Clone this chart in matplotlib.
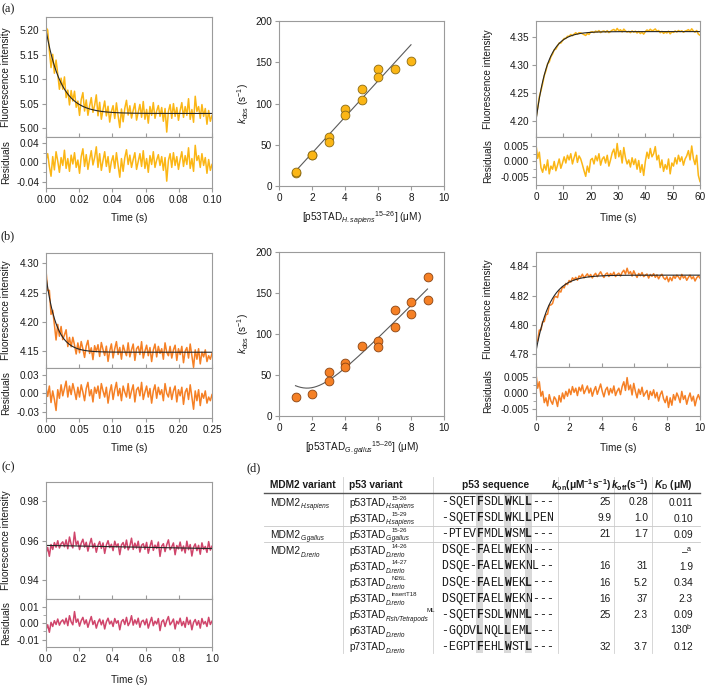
import numpy as np
import matplotlib
matplotlib.use('Agg')
import matplotlib.pyplot as plt
from matplotlib.patches import Rectangle

plt.rcParams['font.family'] = ['Liberation Sans', 'DejaVu Sans']
plt.rcParams['axes.unicode_minus'] = False
plt.rcParams['mathtext.fontset'] = 'custom'
plt.rcParams['mathtext.rm'] = 'Liberation Sans'
plt.rcParams['mathtext.it'] = 'Liberation Sans:italic'
plt.rcParams['mathtext.bf'] = 'Liberation Sans:bold'
try:
    plt.rcParams['mathtext.bfit'] = 'Liberation Sans:italic:bold'
    HAS_BFIT = True
except KeyError:
    HAS_BFIT = False

# ---------------------------------------------------------------- data
# (a) MDM2 H.sapiens / p53TAD H.sapiens 15-26
a_bind_tend = 0.10
a_bind_base, a_bind_amp, a_bind_tau = 5.03, 0.17, 0.009
a_bind_resid_milli = [5, 18, -8, -28, 12, -15, 22, 3, -20, 10,
                      -6, 25, -12, 8, -18, 15, -3, 20, -10, 5,
                      -22, 12, 28, -8, 16, -14, 6, 24, -5, 10,
                      32, -10, 18, -16, 4, 22, -8, 12, -20, 2,
                      14, -12, 20, -6, -30, 8, -18, 10, 26, -4,
                      15, -10, 6, 20, -14, 2, 18, -8, 24, -12,
                      8, -20, 14, -4, 22, -10, 5, 16, -6, 12,
                      -16, 10, -38, 4, 18, -10, 20, -6, 12, -14,
                      6, 22, -8, 14, -4, 30, -12, 8, -18, 35,
                      4, 14, -10, 18, -6, 10, -22, 6, -16, -4]
a_conc = [1, 1, 2, 2, 3, 3, 4, 4, 5, 5, 6, 6, 7, 8]
a_kobs = [16, 17, 37, 38, 59, 53, 93, 86, 117, 104, 142, 132, 142, 151]
a_kon_fit, a_koff_fit = 21.9, -4.0
a_diss_tend = 60
a_diss_base, a_diss_amp, a_diss_tau = 4.36, -0.16, 4.2
a_diss_resid_1e4 = [55, 10, 30,
                    -20, -35, -10, -28, 5, -40, -15, -25, 0, -30, -12, 8, -22, -5,
                    15, -5, 20, 5, 25, -8, 12, 30, -3, 18, 8, -10,
                    -30, -48, -15, -35, 5,
                    10, -8, 18, 2, 25, -12, 8, 15, -5, 20, -15, 5, 28,
                    40, 10, 58, 15, 35, -5, 45, 12, -8,
                    5, -18, 12, -10, 8, -25, 3,
                    -35, -10, -45, 0,
                    30, 10, 42, 15, 25, 48, 5, 20,
                    -20, 5, -32, -10, -25, 8, -40, -5, -15,
                    12, -8, 20, 0, 15, -12, 8, 18,
                    35, 5, 50, 10, -10,
                    20, -45, -65]

# (b) MDM2 G.gallus / p53TAD G.gallus 15-26
b_bind_tend = 0.25
b_bind_base, b_bind_amp, b_bind_tau = 4.148, 0.13, 0.0155
b_bind_resid_milli = [10, -5, 12, -15, 4, -10, -28, 6, -8, 14,
                      -4, 8, 20, -6, 12, -2, 16, 4, -10, 10,
                      -6, 14, 2, -12, 8, 18, -4, 6, -14, 10,
                      0, 12, -8, 16, 4, -6, 10, -16, 2, 14,
                      -10, 6, 18, -4, 8, -12, 12, 2, -6, 16,
                      -8, 4, 14, -14, 6, 10, -4, 18, -10, 2,
                      12, -6, 8, -16, 4, 14, -8, 10, -2, 6,
                      -12, 16, 0, -6, 10, -10, 4, 12, -14, 6,
                      -4, 10, -18, 2, 8, -10, 14, -6, -26, 4,
                      -12, 6, -20, 0, -8, 4, -16, -6, -12, -2]
b_conc = [1, 2, 3, 3, 4, 4, 5, 6, 6, 7, 7, 8, 8, 9, 9]
b_kobs = [23, 27, 54, 43, 65, 60, 85, 91, 84, 129, 109, 139, 125, 170, 141]
b_fit_k, b_fit_x0, b_fit_min = 20.7, 1.7, 34.0
b_diss_tend = 10
b_diss_base, b_diss_amp, b_diss_tau = 4.834, -0.052, 0.85
b_diss_resid_1e4 = [60, 15, 35, -10, 5, -30, -15, -40, -5, -25,
                    -35, -12, -20, -42, -8, -28, 0, -18, 5, -10,
                    12, -5, 20, 2, 15, -8, 18, 6, 25, -2,
                    10, 22, 0, 15, -10, 8, 20, -4, 12, 28,
                    5, -12, 10, 18, -6, 14, 0, 22, -8, 6,
                    15, -5, 20, 35, 8, 48, 10, 25, -6, 30,
                    5, -15, 12, -4, 18, -10, 0, 8, -20, 5,
                    -8, 10, -15, 2, -25, -5, 6, -18, -30, -10,
                    -45, -15, -38, -5, -22, 0, -12, -30, 5, -20,
                    -8, -35, -15, 0, -25, -10, -40, -18, -5, -20]

# (c) MDM2 D.rerio / p53TAD D.rerio 14-26 (no binding signal)
c_tend = 1.0
c_intercept, c_slope = 0.9576, -0.0016
c_resid_1e4 = [-40, -10, -55, 5, -20, 15, -8, 25, -12, 10,
               20, -5, 30, -15, 45, 8, -10, 70, 5, 25,
               -18, 15, 35, -5, 20, -25, 10, 40, -8, 15,
               -30, 5, 25, -10, 18, -35, 8, 30, -5, 12,
               -20, 28, 0, 15, -40, 10, 22, -8, 35, -15,
               5, 45, -12, 20, -5, 30, -25, 10, 18, -10,
               25, -30, 5, 35, -15, 12, -5, 28, -45, 8,
               20, -20, 15, 40, -10, 5, 25, -35, 12, -5,
               30, -15, 10, -25, 35, -8, 18, -40, 5, 22,
               -12, 15, -30, 28, -5, 10, -20, 35, -8, 12]

# (d) table
tbl_headers = ["MDM2 variant", "p53 variant", "p53 sequence"]
mdm2_species = ["H.sapiens", "G.gallus", "D.rerio"]
mdm2_group_sizes = [2, 1, 7]
p53_prefix = ["p53TAD"] * 8 + ["p63TAD", "p73TAD"]
p53_species = ["H.sapiens", "H.sapiens", "G.gallus", "D.rerio", "D.rerio",
               "D.rerio", "D.rerio", "Fish/Tetrapods", "D.rerio", "D.rerio"]
p53_construct = ["15-26", "15-29", "15-26", "14-26", "14-27",
                 "N26L", "insertT18", "ML", "", ""]
p53_sequence = ["-SQETFSDLWKLL---", "-SQETFSDLWKLLPEN", "-PTEVFMDLWSML---",
                "DSQE-FAELWEKN---", "DSQE-FAELWEKNL--", "DSQE-FAELWEKL---",
                "DSQETFAELWEKN---", "-SQETFSDLWNML---", "-GQDVLNQLLEML---",
                "-EGPTFEHLWSTL---"]
highlight_cols = [5, 9, 12]
conserved = "FWL"
kon_vals = ["25", "9.9", "21", "", "16", "16", "16", "25", "", "32"]
koff_vals = ["0.28", "1.0", "1.7", "", "31", "5.2", "37", "2.3", "", "3.7"]
kd_vals = ["0.011", "0.10", "0.09", "\u2013", "1.9", "0.34", "2.3", "0.09", "130", "0.12"]
kd_notes = ["", "", "", "a", "", "", "", "", "b", ""]

# ---------------------------------------------------------------- layout
W, H = 709, 686
fig = plt.figure(figsize=(W / 100, H / 100), dpi=100)
ov = fig.add_axes([0, 0, 1, 1], zorder=10)
ov.set_xlim(0, W)
ov.set_ylim(H, 0)
ov.axis('off')
ov.patch.set_alpha(0)

SPINE = '#9b9b9b'
TXT = '#1a1a1a'
FS = 7.2
GOLD, GOLD_E = '#FBB615', '#8a6a14'
ORANGE, ORANGE_E = '#F58025', '#8a4312'
CRIMSON = '#D0456B'
TRACE_LW = 1.1


def rect(L, T, R, B):
    return [L / W, 1 - B / H, (R - L) / W, (B - T) / H]


def style(ax):
    for s in ax.spines.values():
        s.set_color(SPINE)
        s.set_linewidth(0.8)
    ax.tick_params(colors=SPINE, labelcolor=TXT, labelsize=FS, length=3,
                   width=0.8, pad=2)
    ax.tick_params(which='minor', colors=SPINE, length=2, width=0.6)


def kinetic(box, t_end, model, resid, color, xticks, xfmt,
            m_ticks, m_lim, m_fmt, r_ticks, r_lim, r_fmt):
    L, T, R, Bm, Br = box
    resid = np.asarray(resid)
    t = np.linspace(0, t_end, len(resid))
    tf = np.linspace(0, t_end, 400)
    axm = fig.add_axes(rect(L, T, R, Bm))
    axr = fig.add_axes(rect(L, Bm, R, Br))
    axm.plot(t, model(t) + resid, color=color, lw=TRACE_LW)
    axm.plot(tf, model(tf), color='#262626', lw=0.8)
    axr.plot(t, resid, color=color, lw=TRACE_LW)
    for ax in (axm, axr):
        style(ax)
        ax.set_xlim(0, t_end)
        ax.set_xticks(xticks)
    axm.set_ylim(*m_lim)
    axm.set_yticks(m_ticks)
    axm.set_yticklabels([m_fmt.format(v) for v in m_ticks])
    axm.tick_params(axis='x', direction='in', labelbottom=False)
    axr.set_ylim(*r_lim)
    axr.set_yticks(r_ticks)
    axr.set_yticklabels([r_fmt.format(v) for v in r_ticks])
    mids = [(r_ticks[i] + r_ticks[i + 1]) / 2 for i in range(len(r_ticks) - 1)]
    axr.set_yticks(mids, minor=True)
    axr.set_xticklabels([xfmt.format(v) for v in xticks])
    return axm, axr


def exp_model(base, amp, tau):
    return lambda t: base + amp * np.exp(-t / tau)


# (a) left
kinetic((46, 17, 212, 137, 188), a_bind_tend,
        exp_model(a_bind_base, a_bind_amp, a_bind_tau),
        np.array(a_bind_resid_milli) * 1e-3, GOLD,
        np.arange(0, 0.101, 0.02), "{:.2f}",
        [5.00, 5.05, 5.10, 5.15, 5.20], (4.982, 5.2265), "{:.2f}",
        [-0.04, 0.0, 0.04], (-0.052, 0.052), "{:.2f}")
# (a) right
kinetic((536, 21, 700, 137, 185), a_diss_tend,
        exp_model(a_diss_base, a_diss_amp, a_diss_tau),
        np.array(a_diss_resid_1e4) * 1e-4, GOLD,
        np.arange(0, 61, 10), "{:.0f}",
        [4.20, 4.25, 4.30, 4.35], (4.171, 4.379), "{:.2f}",
        [-0.005, 0.0, 0.005], (-0.0076, 0.0079), "{:.3f}")
# (b) left
kinetic((46, 253, 212, 368, 418), b_bind_tend,
        exp_model(b_bind_base, b_bind_amp, b_bind_tau),
        np.array(b_bind_resid_milli) * 1e-3, ORANGE,
        np.arange(0, 0.251, 0.05), "{:.2f}",
        [4.15, 4.20, 4.25, 4.30], (4.121, 4.3177), "{:.2f}",
        [-0.03, 0.0, 0.03], (-0.0403, 0.0415), "{:.2f}")
# (b) right
kinetic((536, 252, 700, 367, 416), b_diss_tend,
        exp_model(b_diss_base, b_diss_amp, b_diss_tau),
        np.array(b_diss_resid_1e4) * 1e-4, ORANGE,
        np.arange(0, 11, 2), "{:.0f}",
        [4.78, 4.80, 4.82, 4.84], (4.7713, 4.8498), "{:.2f}",
        [-0.005, 0.0, 0.005], (-0.00716, 0.0081), "{:.3f}")
# (c)
kinetic((46, 482, 212, 599, 647), c_tend,
        lambda t: c_intercept + c_slope * t,
        np.array(c_resid_1e4) * 1e-4, CRIMSON,
        np.arange(0, 1.01, 0.2), "{:.1f}",
        [0.94, 0.96, 0.98], (0.9303, 0.9899), "{:.2f}",
        [-0.01, 0.0, 0.01], (-0.0144, 0.0146), "{:.2f}")


def kobs_panel(box, conc, kobs, fc, ec, xfit, yfit):
    L, T, R, B = box
    ax = fig.add_axes(rect(L, T, R, B))
    style(ax)
    ax.plot(xfit, yfit, color='#5a5a5a', lw=0.8, zorder=2)
    ax.scatter(conc, kobs, s=40, c=fc, edgecolors=ec, linewidths=0.6, zorder=3)
    ax.set_xlim(0, 10)
    ax.set_ylim(0, 200)
    ax.set_xticks(range(0, 11, 2))
    ax.set_yticks(range(0, 201, 50))
    return ax


xa = np.linspace(min(a_conc), max(a_conc), 50)
kobs_panel((279, 21, 444, 186), a_conc, a_kobs, GOLD, GOLD_E,
           xa, a_kon_fit * xa + a_koff_fit)
xb = np.linspace(min(b_conc), max(b_conc), 200)
kobs_panel((279, 252, 444, 416), b_conc, b_kobs, ORANGE, ORANGE_E,
           xb, np.sqrt((b_fit_k * (xb - b_fit_x0)) ** 2 + b_fit_min ** 2))

# ---------------------------------------------------------------- labels
def T_(x, y, s, **kw):
    kw.setdefault('fontsize', FS)
    kw.setdefault('color', TXT)
    return ov.text(x, y, s, **kw)

for lab, x, y in [("(a)", 8, 9), ("(b)", 8, 236), ("(c)", 8, 467), ("(d)", 254, 468)]:
    T_(x, y, lab, ha='center', va='center', family='Liberation Serif', fontsize=8.8)

for xc, boxes in [(6.5, [(17, 137, 188), (253, 368, 418), (482, 599, 647)]),
                  (488, [(21, 137, 185), (252, 367, 416)])]:
    for (tt, bm, br) in boxes:
        T_(xc, (tt + bm) / 2, "Fluorescence intensity", rotation=90, ha='center', va='center')
        T_(xc, (bm + br) / 2, "Residuals", rotation=90, ha='center', va='center')

for x, y in [(129, 218), (129, 448), (129, 680), (618, 218), (618, 448)]:
    T_(x, y, "Time (s)", ha='center', va='center')

kobs_label = r"$k_{\rm obs}$ (s$^{-1}$)"
T_(243, 103.5, kobs_label, rotation=90, ha='center', va='center')
T_(243, 334, kobs_label, rotation=90, ha='center', va='center')
T_(362, 219, "[p53TAD$_{\\mathit{H.sapiens}}{}^{\\mathrm{15\u201326}}$] (\u03bcM)", ha='center', va='center')
T_(362, 449, "[p53TAD$_{\\mathit{G.gallus}}{}^{\\mathrm{15\u201326}}$] (\u03bcM)", ha='center', va='center')

# ---------------------------------------------------------------- table (d)
TFS = 7.3
SUB_FS, SUP_FS = 4.7, 4.4
tab_L, tab_R = 264, 700
head_y = 485
head_line_y = 493
row_y0, row_dy = 502, 16.1
tab_top, tab_bot = 477, 653
vline_x = [343, 433, 558, 614, 652]
seq_x0, char_w = 441, 7.0
mdm2_x, p53_x = 270, 349
kon_x, koff_x, kd_x = 611, 648, 693

renderer = fig.canvas.get_renderer()
inv = ov.transData.inverted()


def right_px(txt):
    bb = txt.get_window_extent(renderer)
    return inv.transform((bb.x1, bb.y0))[0]


def name_with_sub(x, y, main, sub, sup=""):
    t_main = T_(x, y + 3.5, main, ha='left', va='baseline', fontsize=TFS)
    x_sub = right_px(t_main) + 0.3
    t_sub = T_(x_sub, y + 6.3, sub, ha='left', va='baseline', fontsize=SUB_FS,
               style='italic')
    if sup:
        x_sup = x_sub + 6
        if right_px(t_sub) - x_sub > 30:
            x_sup = right_px(t_sub) - 2
        T_(x_sup, y - 2.2, sup, ha='left', va='baseline', fontsize=SUP_FS)


n_rows = len(p53_sequence)
rows_y = [row_y0 + i * row_dy for i in range(n_rows)]

for c in highlight_cols:
    ov.add_patch(Rectangle((seq_x0 + c * char_w, head_line_y), char_w,
                           tab_bot - head_line_y, color='#d9d9d9', lw=0, zorder=1))
for x in vline_x:
    ov.plot([x, x], [tab_top, tab_bot], color='#d0d0d0', lw=0.6, zorder=2)
ov.plot([tab_L, tab_R], [head_line_y, head_line_y], color='#555555', lw=1.0, zorder=3)
bounds = np.cumsum(mdm2_group_sizes)[:-1]
for b in bounds:
    yb = row_y0 + (b - 0.5) * row_dy
    ov.plot([tab_L, tab_R], [yb, yb], color='#c8c8c8', lw=0.6, zorder=3)

T_(mdm2_x, head_y, tbl_headers[0], ha='left', va='center', fontsize=TFS, weight='bold')
T_(p53_x, head_y, tbl_headers[1], ha='left', va='center', fontsize=TFS, weight='bold')
T_(496, head_y, tbl_headers[2], ha='center', va='center', fontsize=TFS, weight='bold')
kk = r"\mathbfit" if HAS_BFIT else r"\mathit"
T_(kon_x, head_y, "$" + kk + "{k}_{\\mathbf{on}}$(\u03bcM$^{\\mathbf{-1}}$s$^{\\mathbf{-1}}$)",
   ha='right', va='center', fontsize=TFS, weight='bold')
T_(koff_x, head_y, "$" + kk + "{k}_{\\mathbf{off}}$(s$^{\\mathbf{-1}}$)",
   ha='right', va='center', fontsize=TFS, weight='bold')
T_(kd_x, head_y, "$" + kk + "{K}_{\\mathbf{D}}$ (\u03bcM)",
   ha='right', va='center', fontsize=TFS, weight='bold')

start = 0
for sp, n in zip(mdm2_species, mdm2_group_sizes):
    name_with_sub(mdm2_x, rows_y[start], "MDM2", sp)
    start += n

for i in range(n_rows):
    y = rows_y[i]
    name_with_sub(p53_x, y, p53_prefix[i], p53_species[i], p53_construct[i])
    for j, ch in enumerate(p53_sequence[i]):
        bold = (j in highlight_cols) and (ch in conserved)
        T_(seq_x0 + j * char_w + char_w / 2, y, ch, ha='center', va='center',
           family='Liberation Mono', fontsize=8.3,
           weight='bold' if bold else 'normal', zorder=4)
    T_(kon_x, y, kon_vals[i], ha='right', va='center', fontsize=TFS)
    T_(koff_x, y, koff_vals[i], ha='right', va='center', fontsize=TFS)
    kd_text = kd_vals[i]
    if kd_notes[i]:
        kd_text += "$^{\\mathrm{" + kd_notes[i] + "}}$"
    T_(kd_x, y + 3.5, kd_text, ha='right', va='baseline', fontsize=TFS)

fig.savefig("out.png", dpi=100)
